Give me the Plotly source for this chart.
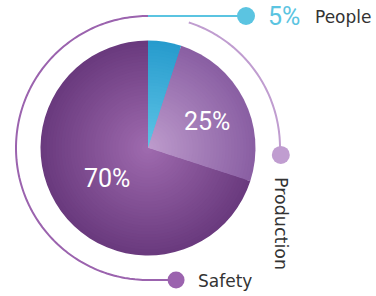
import numpy as np
import plotly.graph_objects as go

# ---- data ----
labels = ["People", "Production", "Safety"]
values = [5, 25, 70]
pct_text = ["5%", "25%", "70%"]
edge_colors = ["#279bcd", "#8a5fa3", "#6a3a7e"]
center_colors = ["#5ec4e6", "#bd9bcc", "#9e6aae"]
arc_colors = ["#5bc4e1", "#c09dd0", "#9b63ae"]

W, H = 376, 296
CX, CY = 148, 148          # pie centre in pixels
RMAX = 148                 # radial range -> 1 unit = 1 px
PIE_R = 107.5
ARC_R = 132

vals = np.array(values, dtype=float)
total = vals.sum()
starts = np.concatenate([[0], np.cumsum(vals)[:-1]]) / total * 360
widths = vals / total * 360
centers = starts + widths / 2


def hex2rgb(h):
    h = h.lstrip("#")
    return np.array([int(h[i:i + 2], 16) for i in (0, 2, 4)], dtype=float)


def mix(c1, c2, t):
    c = hex2rgb(c1) * (1 - t) + hex2rgb(c2) * t
    return "rgb(%d,%d,%d)" % tuple(np.round(c))


fig = go.Figure()

# pie with radial gradient: overlaid wedges, biggest first
N = 36
for k in range(N):
    r = PIE_R * (1 - k / N)
    t = k / (N - 1)
    cols = [mix(e, c, t) for e, c in zip(edge_colors, center_colors)]
    fig.add_trace(go.Barpolar(
        r=[r] * len(values), theta=centers, width=widths,
        marker=dict(color=cols, line=dict(width=0)),
        hoverinfo="skip", showlegend=False))

# Production arc: from start of slice clockwise to the dot
th_p = np.linspace(starts[1], 93, 80)
fig.add_trace(go.Scatterpolar(
    r=[ARC_R] * len(th_p), theta=th_p, mode="lines",
    line=dict(color=arc_colors[1], width=2), hoverinfo="skip",
    showlegend=False, cliponaxis=False))
fig.add_trace(go.Scatterpolar(
    r=[133], theta=[93], mode="markers",
    marker=dict(color=arc_colors[1], size=18), hoverinfo="skip",
    showlegend=False, cliponaxis=False))

# Safety arc: from top counter-clockwise to bottom, then to dot
th_s = np.linspace(360, 180, 160)
r_s = [ARC_R] * len(th_s)
fig.add_trace(go.Scatterpolar(
    r=list(r_s) + [134.9], theta=list(th_s) + [168], mode="lines",
    line=dict(color=arc_colors[2], width=2), hoverinfo="skip",
    showlegend=False, cliponaxis=False))
fig.add_trace(go.Scatterpolar(
    r=[134.9], theta=[168], mode="markers",
    marker=dict(color=arc_colors[2], size=17), hoverinfo="skip",
    showlegend=False, cliponaxis=False))

# People connector (cartesian pixel overlay)
fig.add_trace(go.Scatter(
    x=[CX, 246], y=[16, 16], mode="lines",
    line=dict(color=arc_colors[0], width=2), hoverinfo="skip",
    showlegend=False, cliponaxis=False))
fig.add_trace(go.Scatter(
    x=[246], y=[16], mode="markers",
    marker=dict(color=arc_colors[0], size=18), hoverinfo="skip",
    showlegend=False, cliponaxis=False))

FONT = "Roboto"
LFONT = "DejaVu Sans"
ann = []
ann.append(dict(x=207, y=121, text=pct_text[1], showarrow=False,
                font=dict(family=FONT, size=25, color="white")))
ann.append(dict(x=107, y=178, text=pct_text[2], showarrow=False,
                font=dict(family=FONT, size=25, color="white")))
ann.append(dict(x=266, y=16, text=pct_text[0], showarrow=False, xanchor="left",
                font=dict(family=FONT, size=25, color=arc_colors[0])))
ann.append(dict(x=313, y=17, text=labels[0], showarrow=False, xanchor="left",
                font=dict(family=LFONT, size=17, color="#333333")))
ann.append(dict(x=281, y=223, text=labels[1], showarrow=False, textangle=90,
                font=dict(family=LFONT, size=17.5, color="#333333")))
ann.append(dict(x=196, y=281, text=labels[2], showarrow=False, xanchor="left",
                font=dict(family=LFONT, size=17, color="#333333")))
for a in ann:
    a.update(xref="x", yref="y")

fig.update_layout(
    width=W, height=H,
    margin=dict(l=0, r=0, t=0, b=0),
    paper_bgcolor="white", plot_bgcolor="rgba(0,0,0,0)",
    showlegend=False,
    xaxis=dict(range=[0, W], visible=False, domain=[0, 1], fixedrange=True),
    yaxis=dict(range=[H, 0], visible=False, domain=[0, 1], fixedrange=True),
    polar=dict(
        domain=dict(x=[0, 2 * CX / W], y=[0, 1]),
        bgcolor="rgba(0,0,0,0)",
        bargap=0,
        barmode="overlay",
        hole=0,
        radialaxis=dict(range=[0, RMAX], visible=False),
        angularaxis=dict(rotation=90, direction="clockwise", visible=False),
    ),
    annotations=ann,
)

fig.write_html("out.html", config={"displayModeBar": False},
               post_script="document.body.style.margin='0';")
